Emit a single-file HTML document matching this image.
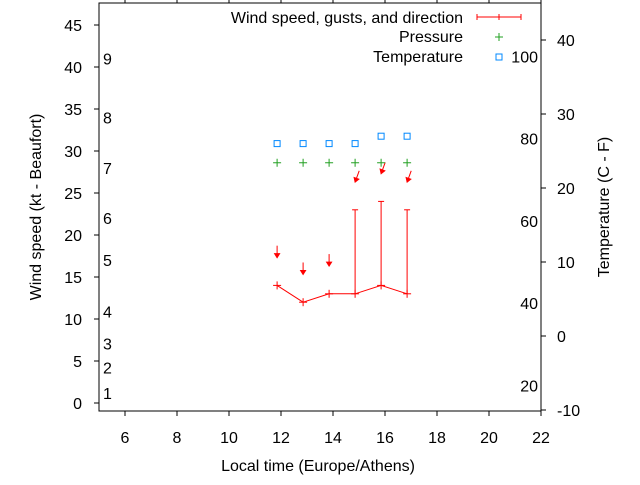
<!DOCTYPE html>
<html><head><meta charset="utf-8"><style>
body{margin:0;background:#fff}
svg text{font-family:"Liberation Sans",sans-serif;font-size:16px;fill:#000}
</style></head><body>
<svg id="c" width="640" height="480" xmlns="http://www.w3.org/2000/svg"></svg>
<script>
const hours=[11.85,12.85,13.85,14.85,15.85,16.85];
const wind=[14,12,13,13,14,13];
const gust=[null,null,null,23,24,23];
const dirDeg=[0,0,0,20,20,20];
const pressurePlot=[28.6,28.6,28.6,28.6,28.6,28.6];
const tempC=[26,26,26,26,27,27];
const xTicks=[6,8,10,12,14,16,18,20,22];
const yTicks=[0,5,10,15,20,25,30,35,40,45];
const cTicks=[-10,0,10,20,30,40];
const fTicks=[20,40,60,80,100];
const bft=[[1,1.2],[2,4.2],[3,7.1],[4,10.9],[5,17],[6,22],[7,28],[8,34],[9,41]];
const NS="http://www.w3.org/2000/svg",svg=document.getElementById('c');
const L=99,R=541,T=3,B=411;
const X=v=>L+(v-5)*26;
const Y=v=>403-v*8.4;
const YC=c=>336-c*7.4;
const YF=f=>YC((f-32)/1.8);
function el(t,a,p){const e=document.createElementNS(NS,t);for(const k in a)e.setAttribute(k,a[k]);(p||svg).appendChild(e);return e;}
function tx(s,x,y,anc,extra){const e=el('text',Object.assign({x:x,y:y,'text-anchor':anc||'start'},extra||{}));e.textContent=s;return e;}
let b=el('rect',{x:L,y:T,width:R-L,height:B-T,fill:'none',stroke:'#000','stroke-width':1});

xTicks.forEach(v=>{el('line',{x1:X(v),x2:X(v),y1:B,y2:B+5,stroke:'#000'});el('line',{x1:X(v),x2:X(v),y1:0,y2:T,stroke:'#000'});let t=tx(v,X(v),443,'middle');});
yTicks.forEach(v=>{el('line',{x1:L-5,x2:L,y1:Y(v),y2:Y(v),stroke:'#000'});let t=tx(v,82,Y(v)+6,'end');});
cTicks.forEach(v=>{el('line',{x1:R,x2:R+5,y1:YC(v),y2:YC(v),stroke:'#000'});let t=tx(v,557,YC(v)+6,'start');});
fTicks.forEach(v=>{let t=tx(v,538,YF(v)+6,'end');});
bft.forEach(d=>{let t=tx(d[0],103,Y(d[1])+6,'start');});
let t1=tx('Local time (Europe/Athens)',318,471,'middle');
let t2=tx('Wind speed (kt - Beaufort)',0,0,'middle',{transform:'translate(41,207) rotate(-90)'});
let t3=tx('Temperature (C - F)',0,0,'middle',{transform:'translate(609,207) rotate(-90)'});
let pts=hours.map((h,i)=>X(h)+','+Y(wind[i])).join(' ');
let pl=el('polyline',{points:pts,fill:'none',stroke:'#f00'});
hours.forEach((h,i)=>{
 const x=X(h),y=Y(wind[i]);
 let g=el('g',{stroke:'#f00'});
 el('line',{x1:x-4,x2:x+4,y1:y,y2:y},g);el('line',{x1:x,x2:x,y1:y-4,y2:y+4},g);
 let top=wind[i];
 if(gust[i]!=null){top=gust[i];el('line',{x1:x,x2:x,y1:y,y2:Y(gust[i])},g);el('line',{x1:x-3,x2:x+3,y1:Y(gust[i]),y2:Y(gust[i])},g);}
 const ay=Y(top+3.3),a=dirDeg[i]*Math.PI/180,len=12;
 const sx=x+Math.sin(a)*len,sy=ay-Math.cos(a)*len;
 let ar=el('g',{stroke:'#f00',fill:'#f00'});
 el('line',{x1:sx,x2:x,y1:sy,y2:ay},ar);
 const ux=(x-sx)/len,uy=(ay-sy)/len;
 el('polygon',{points:`${x},${ay} ${x-ux*4-uy*2.5},${ay-uy*4+ux*2.5} ${x-ux*4+uy*2.5},${ay-uy*4-ux*2.5}`},ar);
 let p=el('g',{stroke:'#22a022'});
 const py=Y(pressurePlot[i]);el('line',{x1:x-4,x2:x+4,y1:py,y2:py},p);el('line',{x1:x,x2:x,y1:py-4,y2:py+4},p);
 let s=el('rect',{x:x-3,y:YC(tempC[i])-3,width:6,height:6,fill:'none',stroke:'#08f'});
});
let lg=el('g',{});
tx('Wind speed, gusts, and direction',463,23,'end');
tx('Pressure',463,42,'end');
tx('Temperature',463,62,'end');
el('line',{x1:477,x2:521,y1:17,y2:17,stroke:'#f00'},lg);el('line',{x1:477,x2:477,y1:14,y2:20,stroke:'#f00'},lg);el('line',{x1:521,x2:521,y1:14,y2:20,stroke:'#f00'},lg);el('line',{x1:499,x2:499,y1:14,y2:20,stroke:'#f00'},lg);
el('line',{x1:495,x2:503,y1:37,y2:37,stroke:'#22a022'},lg);el('line',{x1:499,x2:499,y1:33,y2:41,stroke:'#22a022'},lg);
el('rect',{x:496,y:54,width:6,height:6,fill:'none',stroke:'#08f'},lg);
</script>
</body></html>
